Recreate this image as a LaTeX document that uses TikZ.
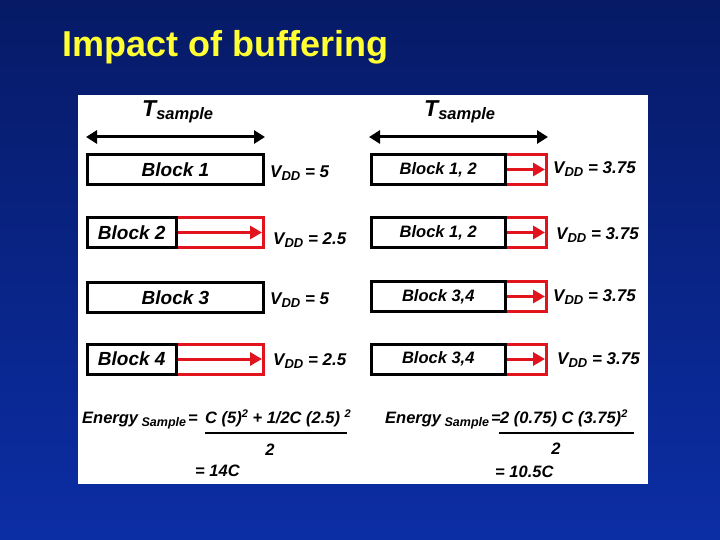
\documentclass[tikz,border=0pt]{standalone}
\usepackage{fontspec}
\setmainfont{Liberation Sans}
\usetikzlibrary{arrows.meta,positioning}
\definecolor{slidetop}{RGB}{6,26,102}
\definecolor{slidebot}{RGB}{12,46,165}
\definecolor{titleyellow}{RGB}{255,255,51}
\definecolor{bufred}{RGB}{225,20,30}

\newcommand{\blockfont}{\fontsize{19}{19}\selectfont\bfseries\itshape}
\newcommand{\pairfont}{\fontsize{16.5}{16.5}\selectfont\bfseries\itshape}
\newcommand{\vddfont}{\fontsize{17}{17}\selectfont\bfseries\itshape}
\newcommand{\eqfont}{\fontsize{16.5}{16.5}\selectfont\bfseries\itshape}
\newcommand{\vdd}[1]{V\raisebox{-3pt}{\fontsize{13}{13}\selectfont DD} = #1}
\newcommand{\tsample}{{\fontsize{23}{23}\selectfont T}\raisebox{-3pt}{\fontsize{16.5}{16.5}\selectfont sample}}
\newcommand{\esample}{Energy\raisebox{-3pt}{\fontsize{12.5}{12.5}\selectfont\ Sample}\kern2pt=}
\newcommand{\squared}{\raisebox{6pt}{\fontsize{11}{11}\selectfont 2}}

\tikzset{
  slidetitle/.style={anchor=base west,inner sep=0pt,text=titleyellow,
    font=\fontsize{36}{36}\selectfont\bfseries},
  tlabel/.style={anchor=base west,inner sep=0pt,font=\bfseries\itshape},
  blk/.style={draw=black,line width=3pt,outer sep=0pt,inner sep=0pt,
    minimum height=30pt,font=\blockfont},
  buf/.style={draw=bufred,line width=3pt,outer sep=0pt,inner sep=0pt,
    minimum height=30pt},
  span/.style={draw=black,line width=3pt,
    {Triangle[length=11pt,width=13pt]}-{Triangle[length=11pt,width=13pt]}},
  push/.style={draw=bufred,line width=3pt,shorten <=1.5pt,shorten >=1.5pt,
    -{Triangle[length=12pt,width=13pt]}},
  vdd/.style={anchor=base west,inner sep=0pt,font=\vddfont},
  eq/.style={anchor=base west,inner sep=0pt,font=\eqfont},
  bar/.style={draw=black,line width=2.5pt},
}

\begin{document}
\begin{tikzpicture}[x=1pt,y=-1pt]
  \useasboundingbox (0,0) rectangle (720,540);
  % slide background and white panel
  \shade[top color=slidetop,bottom color=slidebot] (0,0) rectangle (720,540);
  \fill[white] (78,95) rectangle (648,484);

  \node[slidetitle] (title) at (62,57) {Impact of buffering};

  % left half: one block per sample period
  \coordinate (lspanw) at (86,137);
  \coordinate (lspane) at (265,137);
  \draw[span] (lspanw) -- (lspane);
  \node[tlabel] (lts) at (142,117) {\tsample};

  \node[blk,minimum width=176] (b1) at (175.5,169.5) {Block 1};
  \node[vdd] (b1v) at (270,178) {\vdd{5}};

  \node[buf,minimum width=87.5] (b2buf) at (219.75,232.5) {};
  \node[blk,minimum width=88.5,left=0pt of b2buf] (b2) {Block 2};
  \draw[push] (b2.east) -- (b2buf.east);
  \node[vdd] (b2v) at (273,244) {\vdd{2.5}};

  \node[blk,minimum width=176] (b3) at (175.5,297.5) {Block 3};
  \node[vdd] (b3v) at (270,304) {\vdd{5}};

  \node[buf,minimum width=87.5] (b4buf) at (219.75,359) {};
  \node[blk,minimum width=88.5,left=0pt of b4buf] (b4) {Block 4};
  \draw[push] (b4.east) -- (b4buf.east);
  \node[vdd] (b4v) at (273,365) {\vdd{2.5}};

  % right half: two blocks share a sample, both stretched
  \coordinate (rspanw) at (369,137);
  \coordinate (rspane) at (548,137);
  \draw[span] (rspanw) -- (rspane);
  \node[tlabel] (rts) at (424,117) {\tsample};

  \newcommand{\pairrow}[5]{%
    \node[buf,minimum width=41.5] (#1buf) at (525.75,#2) {};
    \node[blk,font=\pairfont,minimum width=133.5,left=0pt of #1buf] (#1) {#3};
    \draw[push] (#1.east) -- (#1buf.east);
    \node[vdd] (#1v) at (#4,#5) {\vdd{3.75}};
  }
  \pairrow{p1}{169.5}{Block 1, 2}{553}{174}
  \pairrow{p2}{232.5}{Block 1, 2}{556}{240}
  \pairrow{p3}{296.5}{Block 3,4}{553}{301}
  \pairrow{p4}{359}{Block 3,4}{557}{364}

  % energy per sample
  \node[eq] (le) at (82,423) {\esample};
  \node[eq] (lnum) at (205,423) {C (5)\squared{} + 1/2C (2.5) \squared};
  \draw[bar] (205,433) -- (347,433);
  \node[eq,anchor=center] (lden) at (270,450) {2};
  \node[eq] (lres) at (195,476) {= 14C};

  \node[eq] (re) at (385,423) {\esample};
  \node[eq] (rnum) at (500,423) {2 (0.75) C (3.75)\squared};
  \draw[bar] (499,433) -- (634,433);
  \node[eq,anchor=center] (rden) at (556,449) {2};
  \node[eq] (rres) at (495,477) {= 10.5C};
\end{tikzpicture}
\end{document}
